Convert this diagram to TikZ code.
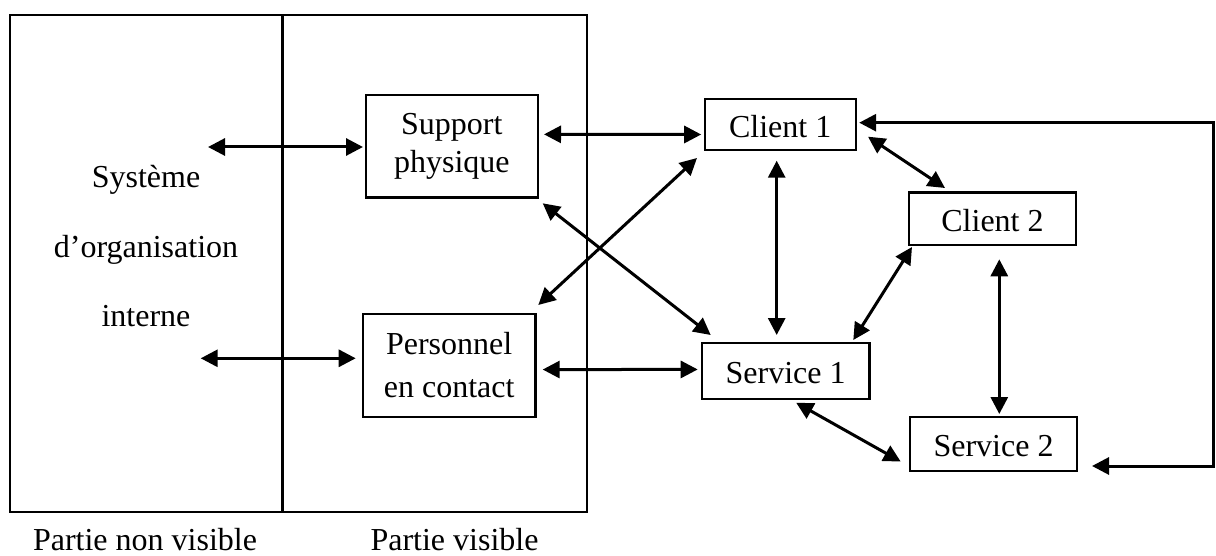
\documentclass[tikz,border=0pt]{standalone}
\usepackage{fontspec}
\setmainfont{Liberation Serif}
\usetikzlibrary{arrows.meta,calc}
\begin{document}
\begin{tikzpicture}[x=1pt,y=-1pt,
  txt/.style={font=\fontsize{32}{37}\selectfont},
  box/.style={draw,line width=2.4pt,inner sep=0pt,outer sep=0pt,align=center,txt},
  onebox/.style={box,text height=26pt,text depth=0pt},
  lbl/.style={txt,inner sep=0pt,anchor=base},
  link/.style={line width=3pt,{Triangle[length=17pt,width=17pt]}-{Triangle[length=17pt,width=17pt]}},
  frameline/.style={line width=2.4pt}]
\useasboundingbox (0,0) rectangle (1216,556);

% organisation frame: hidden part | visible part
\draw[frameline] (10,15) rectangle (587,512);
\draw[frameline] (282.5,15) -- (282.5,512);

\node[lbl] (sys1) at (146,188) {Système};
\node[lbl] (sys2) at (146,258) {d’organisation};
\node[lbl] (sys3) at (146,326.7) {interne};
\node[lbl] (pnv) at (145,550) {Partie non visible};
\node[lbl] (pv) at (454.5,550) {Partie visible};

% boxes
\node[box,minimum width=172.3pt,minimum height=102.7pt,
      font=\fontsize{32}{38}\selectfont] (sup) at (451.85,146.35) {Support\\physique};
\node[box,minimum width=172.3pt,minimum height=102.7pt,
      font=\fontsize{32}{42.7}\selectfont] (pers) at (449.15,365.35) {Personnel\\en contact};
\node[onebox,minimum width=151pt,minimum height=51pt] (c1) at (780.2,124.5) {Client 1};
\node[onebox,minimum width=167pt,minimum height=52.3pt] (c2) at (992.5,218.85) {Client 2};
\node[onebox,minimum width=167.3pt,minimum height=56.3pt] (s1) at (785.65,370.85) {Service 1};
\node[onebox,minimum width=167pt,minimum height=53.7pt] (s2) at (993.5,443.85) {Service 2};

% links from the internal system
\coordinate (la) at (208,147);
\coordinate (lb) at (200.7,358.3);
\draw[link] (la) -- ($(la -| sup.west)+(-2.7,0)$);
\draw[link] (lb) -- ($(lb -| pers.west)+(-7.3,0)$);

% visible part links
\draw[link] ($(sup.east)+(6,-12)$) -- ($(c1.west)+(-3.5,10)$);
\draw[link] ($(pers.east)+(7.4,4.2)$) -- ($(s1.west)+(-4.3,-1.4)$);
\draw[link] ($(sup.south east)+(4.7,5.6)$) -- ($(s1.north west)+(8.7,-7.7)$);
\draw[link] ($(pers.north east)+(3,-9)$) -- ($(c1.south west)+(-7.7,8)$);
\draw[link] ($(c1.south)+(-3.5,10.7)$) -- ($(s1.north)+(-8.95,-7.7)$);
\draw[link] ($(c1.east)+(12.3,12.2)$) -- ($(c2.north west)+(36,-4.7)$);
\draw[link] ($(c2.south west)+(3,2)$) -- ($(s1.north east)+(-16,-2.7)$);
\draw[link] ($(c2.south)+(6.8,14.3)$) -- ($(s2.north)+(5.8,-3)$);
\draw[link] ($(s1.south)+(10.5,3.7)$) -- ($(s2.west)+(-9.3,17.7)$);

% feedback loop on the right
\coordinate (fbtop) at (1213,122.7);
\coordinate (fbbot) at (1213,466);
\draw[link] ($(c1.east |- fbtop)+(3.5,0)$) -- (fbtop) -- (fbbot) -- ($(s2.east |- fbbot)+(15,0)$);
\end{tikzpicture}
\end{document}
